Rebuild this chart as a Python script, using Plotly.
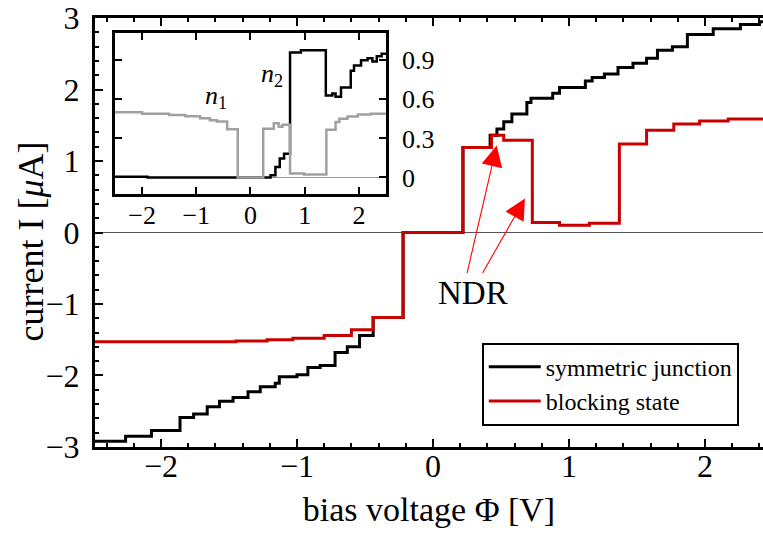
import plotly.graph_objects as go

# ---- main panel data: current I [uA] vs bias voltage [V] (step curves) ----
sym_V = [-2.5, -2.26, -2.07, -1.86, -1.76, -1.66, -1.57, -1.47, -1.36, -1.27, -1.16, -1.13,
         -1.00, -0.92, -0.83, -0.72, -0.63, -0.54, -0.44, -0.22, 0.22, 0.42, 0.47, 0.52,
         0.58, 0.69, 0.72, 0.88, 0.93, 1.12, 1.17, 1.26, 1.36, 1.47, 1.57, 1.65, 1.76,
         1.87, 2.06, 2.26, 2.40, 2.5]
sym_I = [-2.92, -2.85, -2.77, -2.59, -2.54, -2.44, -2.36, -2.31, -2.23, -2.16, -2.11, -2.02,
         -1.99, -1.89, -1.86, -1.68, -1.60, -1.44, -1.19, 0.0, 1.19, 1.36, 1.45, 1.55,
         1.66, 1.82, 1.88, 1.95, 2.03, 2.12, 2.17, 2.22, 2.31, 2.37, 2.44, 2.55, 2.60,
         2.77, 2.85, 2.91, 2.95, 2.95]

blk_V = [-2.5, -1.45, -1.22, -1.03, -0.80, -0.60, -0.44, -0.22, 0.22, 0.43, 0.52, 0.73,
         0.93, 1.15, 1.37, 1.57, 1.77, 1.96, 2.17, 2.5]
blk_I = [-1.53, -1.52, -1.50, -1.48, -1.44, -1.36, -1.19, 0.0, 1.19, 1.36, 1.29, 0.14,
         0.10, 0.13, 1.24, 1.43, 1.52, 1.56, 1.59, 1.59]

# ---- inset data: occupations n1, n2 ----
n1_V = [-2.5, -2.0, -1.5, -1.2, -0.93, -0.75, -0.62, -0.43, -0.235, 0.235, 0.43, 0.52,
        0.59, 0.73, 0.99, 1.40, 1.57, 1.64, 1.79, 1.98, 2.22, 2.5]
n1_n = [0.50, 0.49, 0.48, 0.47, 0.455, 0.44, 0.43, 0.37, 0.0, 0.374, 0.417, 0.39,
        0.405, 0.03, 0.023, 0.367, 0.425, 0.45, 0.468, 0.483, 0.49, 0.49]

n2_V = [-2.5, -1.9, 0.25, 0.37, 0.46, 0.54, 0.62, 0.73, 0.93, 1.39, 1.51, 1.57, 1.67,
        1.85, 1.91, 2.04, 2.16, 2.25, 2.33, 2.42, 2.5]
n2_n = [0.005, 0.0, 0.0, 0.018, 0.08, 0.145, 0.183, 0.96, 0.977, 0.63, 0.645, 0.62, 0.69,
        0.82, 0.86, 0.90, 0.915, 0.89, 0.93, 0.95, 0.95]

main_xticks = [-2, -1, 0, 1, 2]
main_yticks = [-3, -2, -1, 0, 1, 2, 3]
inset_xticks = [-2, -1, 0, 1, 2]
inset_yticks = [0, 0.3, 0.6, 0.9]

FONT = "Liberation Serif"
RED = "#c80000"

fig = go.Figure()
fig.add_trace(go.Scatter(x=sym_V, y=sym_I, mode="lines", name="symmetric junction",
                         line=dict(color="black", width=3, shape="hv")))
fig.add_trace(go.Scatter(x=blk_V, y=blk_I, mode="lines", name="blocking state",
                         line=dict(color=RED, width=3, shape="hv")))
fig.add_trace(go.Scatter(x=n2_V, y=n2_n, mode="lines", xaxis="x2", yaxis="y2",
                         showlegend=False, line=dict(color="black", width=2.5, shape="hv")))
fig.add_trace(go.Scatter(x=n1_V, y=n1_n, mode="lines", xaxis="x2", yaxis="y2",
                         showlegend=False, line=dict(color="#a0a0a0", width=2.5, shape="hv")))

axis_common = dict(showline=True, linecolor="black", ticks="inside", tickcolor="black",
                   showgrid=False, ticklabeloverflow="allow")

fig.update_layout(
    width=763, height=533,
    margin=dict(l=95, r=0, t=15, b=86),
    paper_bgcolor="white", plot_bgcolor="white",
    font=dict(family=FONT, color="black"),
    xaxis=dict(**axis_common, range=[-2.485, 2.426], linewidth=3, mirror="allticks",
               tickvals=main_xticks, ticklen=8, tickwidth=2,
               minor=dict(dtick=0.2, tick0=0, ticklen=4, tickwidth=1.5, ticks="inside",
                          tickcolor="black"),
               zeroline=False, tickfont=dict(size=32, family=FONT), ticklabelstandoff=-11,
               title=dict(text="bias voltage Φ [V]", font=dict(size=34, family=FONT),
                          standoff=14)),
    yaxis=dict(**axis_common, range=[-3.002, 3.002], linewidth=3, tickvals=main_yticks,
               ticklen=8, tickwidth=2,
               minor=dict(dtick=0.2, tick0=0, ticklen=4, tickwidth=1.5, ticks="inside",
                          tickcolor="black"),
               zeroline=True, zerolinecolor="#555555", zerolinewidth=1,
               tickfont=dict(size=32, family=FONT), ticklabelstandoff=6),
    xaxis2=dict(**axis_common, domain=[0.0299, 0.4356], anchor="y2", range=[-2.5, 2.5],
                linewidth=2.5, mirror="allticks", tickvals=inset_xticks, ticklen=7,
                tickwidth=2, zeroline=False, tickfont=dict(size=26, family=FONT),
                ticklabelstandoff=-4),
    yaxis2=dict(**axis_common, domain=[0.5903, 0.9653], anchor="x2", side="right",
                range=[-0.125, 1.11], linewidth=2.5, mirror="allticks",
                tickvals=inset_yticks, ticktext=["0", "0.3", "0.6", "0.9"], ticklen=7,
                tickwidth=2, zeroline=True, zerolinecolor="#999999", zerolinewidth=1,
                tickfont=dict(size=26, family=FONT), ticklabelstandoff=8),
    legend=dict(x=0.579, y=0.243, xanchor="left", yanchor="top", bgcolor="white",
                bordercolor="black", borderwidth=2, font=dict(size=24, family=FONT),
                tracegroupgap=0, itemwidth=52),
    showlegend=True,
)

# y-axis title
fig.add_annotation(x=-0.0958, y=0.479, xref="paper", yref="paper", xanchor="center",
                   yanchor="middle", textangle=-90, text="current I [<i>μ</i>A]",
                   showarrow=False, font=dict(size=36, family=FONT))

# NDR label and arrows
fig.add_annotation(x=0.294, y=-0.85, xref="x", yref="y", text="NDR", showarrow=False,
                   font=dict(size=33, family=FONT))
for (tx, ty, ax, ay) in [(0.468, 1.218, 0.248, -0.588), (0.676, 0.476, 0.358, -0.588)]:
    fig.add_annotation(x=tx, y=ty, ax=ax, ay=ay, xref="x", yref="y", axref="x", ayref="y",
                       text="", showarrow=True, arrowhead=2, arrowsize=3.8, arrowwidth=1.1,
                       arrowcolor="#ff0000")

# inset labels
fig.add_annotation(x=-0.63, y=0.62, xref="x2", yref="y2", text="<i>n</i><sub>1</sub>",
                   showarrow=False, font=dict(size=26, family=FONT))
fig.add_annotation(x=0.39, y=0.79, xref="x2", yref="y2", text="<i>n</i><sub>2</sub>",
                   showarrow=False, font=dict(size=26, family=FONT))

fig.write_html("out.html", config={"displayModeBar": False},
               post_script="document.body.style.margin='0';")
